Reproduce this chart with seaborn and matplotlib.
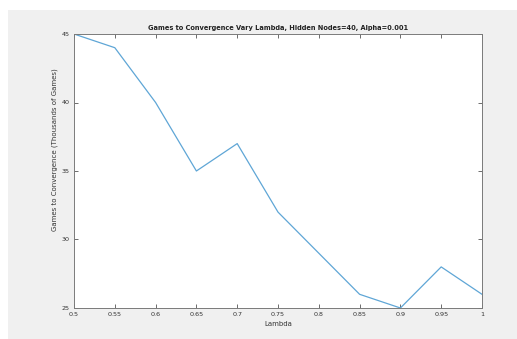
import matplotlib
matplotlib.use("Agg")
import matplotlib.pyplot as plt
from matplotlib.patches import Rectangle
import seaborn as sns
import pandas as pd

lambdas = [0.5, 0.55, 0.6, 0.65, 0.7, 0.75, 0.8, 0.85, 0.9, 0.95, 1.0]
games = [45, 44, 40, 35, 37, 32, 29, 26, 25, 28, 26]
xtick_labels = ["0.5", "0.55", "0.6", "0.65", "0.7", "0.75", "0.8", "0.85", "0.9", "0.95", "1"]
yticks = [25, 30, 35, 40, 45]

df = pd.DataFrame({"Lambda": lambdas, "Games": games})

W, H = 517, 339
fig = plt.figure(figsize=(W / 100, H / 100), dpi=100, facecolor="#f0f0f0")
# white outer margins (top and left)
fig.patches.append(Rectangle((0, (H - 10) / H), 1, 10 / H, transform=fig.transFigure,
                             facecolor="white", edgecolor="none", zorder=-10))
fig.patches.append(Rectangle((0, 0), 8 / W, 1, transform=fig.transFigure,
                             facecolor="white", edgecolor="none", zorder=-10))

ax = fig.add_axes([74 / W, (H - 308) / H, (482 - 74) / W, (308 - 34) / H])
ax.set_facecolor("white")

sns.lineplot(data=df, x="Lambda", y="Games", ax=ax, color="#5fa6d6", linewidth=0.9)

ax.set_xlim(0.5, 1.0)
ax.set_ylim(25, 45)
ax.set_xticks(lambdas)
ax.set_xticklabels(xtick_labels)
ax.set_yticks(yticks)
ax.tick_params(direction="in", top=True, right=True, length=3, width=0.6,
               labelsize=4.6, colors="#555555", labelcolor="#333333", pad=3)
for s in ax.spines.values():
    s.set_color("#7a7a7a")
    s.set_linewidth(0.7)

ax.set_title("Games to Convergence Vary Lambda, Hidden Nodes=40, Alpha=0.001",
             fontsize=4.8, fontweight="bold", color="#222222", pad=3)
ax.set_xlabel("Lambda", fontsize=5.0, color="#333333", labelpad=3)
ax.set_ylabel("Games to Convergence (Thousands of Games)", fontsize=5.0, color="#333333")
ax.yaxis.set_label_coords(-0.038, 0.577)

fig.savefig("out.png", dpi=100, facecolor=fig.get_facecolor())
